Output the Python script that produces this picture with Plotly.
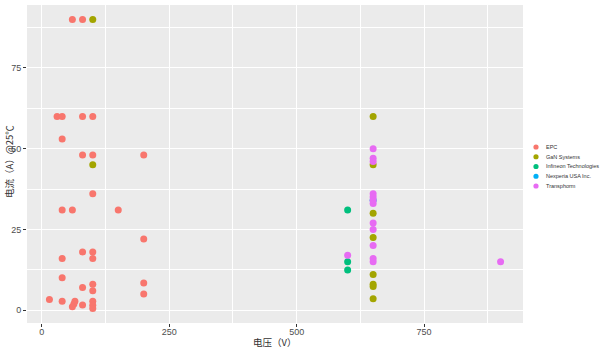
import plotly.graph_objects as go

companies = ["EPC", "GaN Systems", "Infineon Technologies", "Nexperia USA Inc.", "Transphorm"]
colors = ["#F8766D", "#A3A500", "#00BF7D", "#00B0F6", "#E76BF3"]

epc_v = [60, 80, 30, 40, 80, 100, 40, 80, 100, 200, 100, 40, 60, 150, 200, 80, 100, 40, 100,
         40, 100, 200, 80, 100, 200, 15, 40, 65, 63, 60, 80, 100, 100, 100]
epc_a = [90, 90, 60, 60, 60, 60, 53, 48, 48, 48, 36, 31, 31, 31, 22, 18, 18, 16, 16,
         10, 8, 8.4, 7, 6, 5, 3.3, 2.7, 2.7, 1.9, 1, 1.6, 2.7, 1.5, 0.5]
gan_v = [100, 100, 650, 650, 650, 650, 650, 650, 650, 650]
gan_a = [90, 45, 60, 45, 30, 22.5, 11, 8, 7.3, 3.5]
inf_v = [600, 600, 600]
inf_a = [31, 15, 12.4]
nex_v = [650]
nex_a = [34]
tra_v = [650, 650, 650, 650, 650, 650, 650, 650, 650, 650, 650, 650, 600, 900]
tra_a = [50, 47, 46, 36, 35, 34, 33, 27, 25, 20, 16, 15, 17, 15]

series = [(epc_v, epc_a), (gan_v, gan_a), (inf_v, inf_a), (nex_v, nex_a), (tra_v, tra_a)]

x_ticks = [0, 250, 500, 750]
y_ticks = [0, 25, 50, 75]
x_title = "电压（V）"
y_title = "电流（A）@25℃"

fig = go.Figure()
for name, col, (v, a) in zip(companies, colors, series):
    fig.add_trace(go.Scatter(x=v, y=a, mode="markers", name=name,
                             marker=dict(color=col, size=7, line=dict(width=0)),
                             showlegend=False))

# plot area geometry (pixels)
L, R, T, B = 27, 523, 5, 323
W, H = 600, 350

def px_x(p):
    return (p - L) / (R - L)

def px_y(p):
    return (B - p) / (B - T)

shapes = []
annotations = []
for i, (name, col) in enumerate(zip(companies, colors)):
    yy = 147 + 9.75 * i
    shapes.append(dict(type="circle", xref="paper", yref="paper",
                       xsizemode="pixel", ysizemode="pixel",
                       xanchor=px_x(536), yanchor=px_y(yy),
                       x0=-2.6, x1=2.6, y0=-2.6, y1=2.6,
                       fillcolor=col, line=dict(width=0)))
    annotations.append(dict(text=name, xref="paper", yref="paper",
                            x=px_x(544), y=px_y(yy), xanchor="left", yanchor="middle",
                            showarrow=False, font=dict(size=5.5, color="#333333")))

annotations.append(dict(text=x_title, xref="paper", yref="paper",
                        x=px_x(274), y=px_y(341.5), xanchor="center", yanchor="middle",
                        showarrow=False,
                        font=dict(size=9.5, color="#333333", family="Noto Sans CJK SC")))
annotations.append(dict(text=y_title, xref="paper", yref="paper",
                        x=px_x(9), y=px_y(162), xanchor="center", yanchor="middle",
                        textangle=-90, showarrow=False,
                        font=dict(size=9.5, color="#333333", family="Noto Sans CJK SC")))

axis_common = dict(showgrid=True, gridcolor="white", gridwidth=1.1, zeroline=False,
                   ticks="outside", ticklen=3, tickcolor="#333333", tickwidth=1,
                   tickfont=dict(size=9, color="#4D4D4D", family="Liberation Sans"),
                   showline=False, automargin=False)

fig.update_layout(
    width=W, height=H,
    margin=dict(l=L, r=W - R, t=T, b=H - B),
    paper_bgcolor="white", plot_bgcolor="#EBEBEB",
    showlegend=False,
    shapes=shapes, annotations=annotations,
    xaxis=dict(range=[-29, 944], tickvals=x_ticks, ticktext=[str(t) for t in x_ticks],
               minor=dict(dtick=125, tick0=125, showgrid=True, gridcolor="white", gridwidth=0.5, ticks=""),
               ticklabelstandoff=-3,
               **axis_common),
    yaxis=dict(range=[-4, 94.5], tickvals=y_ticks, ticktext=[str(t) for t in y_ticks],
               minor=dict(dtick=12.5, tick0=12.5, showgrid=True, gridcolor="white", gridwidth=0.5, ticks=""),
               **axis_common),
    font=dict(family="Liberation Sans"),
)

fig.write_html("out.html")
